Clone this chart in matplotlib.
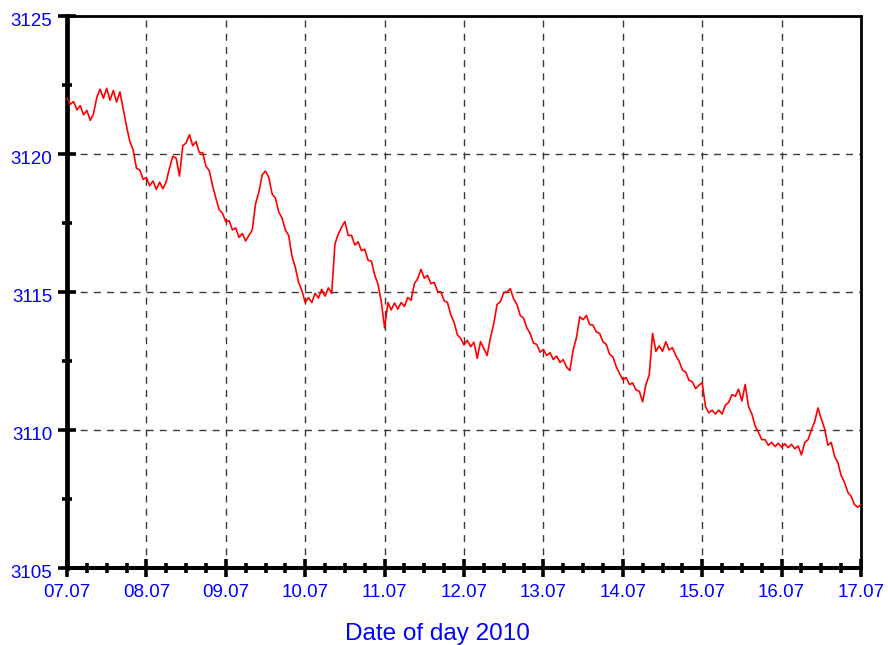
import numpy as np
import pandas as pd
import matplotlib
matplotlib.use("Agg")
import matplotlib.pyplot as plt
import matplotlib.dates as mdates
import matplotlib.transforms as mtransforms
from matplotlib.ticker import MultipleLocator

# ---- data (hourly readings, 07.07.2010 00:00 -> 17.07.2010 00:00) ----
start_date = "2010-07-07"
level = [
    3122.02, 3121.80, 3121.90, 3121.60, 3121.75, 3121.42, 3121.58, 3121.22, 3121.45, 3122.05,
    3122.35, 3122.02, 3122.38, 3121.95, 3122.30, 3121.88, 3122.25, 3121.62, 3121.00, 3120.45,
    3120.15, 3119.48, 3119.42, 3119.08, 3119.15, 3118.85, 3119.02, 3118.72, 3118.98, 3118.74,
    3119.00, 3119.50, 3119.92, 3119.85, 3119.20, 3120.30, 3120.40, 3120.70, 3120.30, 3120.45,
    3120.05, 3120.05, 3119.55, 3119.40, 3118.85, 3118.40, 3117.98, 3117.85, 3117.55, 3117.58,
    3117.25, 3117.32, 3116.98, 3117.12, 3116.85, 3117.05, 3117.25, 3118.20, 3118.62, 3119.25,
    3119.38, 3119.15, 3118.55, 3118.40, 3117.90, 3117.68, 3117.25, 3117.05, 3116.30, 3115.90,
    3115.35, 3115.05, 3114.62, 3114.80, 3114.62, 3114.95, 3114.78, 3115.10, 3114.85, 3115.15,
    3114.95, 3116.75, 3117.10, 3117.35, 3117.55, 3117.05, 3117.05, 3116.70, 3116.82, 3116.50,
    3116.55, 3116.15, 3116.12, 3115.62, 3115.28, 3114.65, 3113.70, 3114.62, 3114.35, 3114.60,
    3114.38, 3114.62, 3114.48, 3114.80, 3114.70, 3115.30, 3115.48, 3115.82, 3115.50, 3115.60,
    3115.30, 3115.35, 3115.02, 3115.00, 3114.68, 3114.62, 3114.18, 3113.90, 3113.45, 3113.32,
    3113.08, 3113.25, 3113.02, 3113.18, 3112.60, 3113.20, 3112.95, 3112.70, 3113.35, 3113.85,
    3114.55, 3114.65, 3114.98, 3115.00, 3115.12, 3114.75, 3114.55, 3114.15, 3114.05, 3113.70,
    3113.50, 3113.15, 3113.10, 3112.82, 3112.92, 3112.70, 3112.80, 3112.55, 3112.68, 3112.45,
    3112.55, 3112.28, 3112.15, 3112.90, 3113.35, 3114.10, 3114.00, 3114.15, 3113.82, 3113.80,
    3113.55, 3113.50, 3113.20, 3113.10, 3112.75, 3112.65, 3112.30, 3112.05, 3111.82, 3111.90,
    3111.65, 3111.70, 3111.45, 3111.40, 3111.02, 3111.65, 3112.00, 3113.50, 3112.85, 3113.05,
    3112.85, 3113.20, 3112.90, 3112.98, 3112.70, 3112.50, 3112.18, 3112.10, 3111.80, 3111.75,
    3111.50, 3111.62, 3111.72, 3110.85, 3110.62, 3110.72, 3110.58, 3110.72, 3110.58, 3110.90,
    3111.00, 3111.28, 3111.22, 3111.48, 3111.05, 3111.65, 3110.85, 3110.58, 3110.15, 3109.92,
    3109.65, 3109.65, 3109.45, 3109.55, 3109.40, 3109.52, 3109.38, 3109.50, 3109.36, 3109.48,
    3109.32, 3109.42, 3109.10, 3109.55, 3109.65, 3110.00, 3110.30, 3110.80, 3110.40, 3110.05,
    3109.45, 3109.55, 3109.05, 3108.82, 3108.35, 3108.10, 3107.75, 3107.60, 3107.30, 3107.20,
    3107.30,
]
x_tick_labels = ["07.07", "08.07", "09.07", "10.07", "11.07", "12.07",
                 "13.07", "14.07", "15.07", "16.07", "17.07"]
y_ticks = [3105, 3110, 3115, 3120, 3125]
x_label = "Date of day 2010"

times = pd.date_range(start_date, periods=len(level), freq="h")
day_ticks = pd.date_range(start_date, periods=len(x_tick_labels), freq="D")

# ---- figure ----
plt.rcParams["font.family"] = ["Liberation Sans", "DejaVu Sans"]
fig = plt.figure(figsize=(8.88, 6.45), dpi=100)
ax = fig.add_axes([67 / 888, 1 - 568 / 645, (861 - 67) / 888, (568 - 16) / 645])

ax.plot(times, level, color="#ff0000", lw=1.2, zorder=3)

ax.set_xlim(day_ticks[0], day_ticks[-1])
ax.set_ylim(y_ticks[0], y_ticks[-1])

ax.set_xticks(day_ticks)
ax.set_xticklabels(x_tick_labels)
ax.xaxis.set_minor_locator(mdates.HourLocator(byhour=[6, 12, 18]))
ax.set_yticks(y_ticks)
ax.set_yticklabels([str(v) for v in y_ticks])
ax.yaxis.set_minor_locator(MultipleLocator(2.5))

ax.grid(True, which="major", color="#3a3a3a", lw=1.0, linestyle=(0, (5, 4.5)), zorder=1)

ax.tick_params(which="major", direction="inout", length=13, width=2.6,
               color="black", labelcolor="#0000ff", labelsize=13.5)
ax.tick_params(axis="y", which="major", pad=4)
ax.tick_params(axis="x", which="major", pad=5)
ax.tick_params(which="minor", direction="inout", length=7, width=2.6, color="black")
ax.tick_params(top=False, right=False, which="both")

# y tick labels sit slightly below their ticks in the reference
shift = mtransforms.ScaledTranslation(0, -3 / 100, fig.dpi_scale_trans)
for lab in ax.get_yticklabels():
    lab.set_transform(lab.get_transform() + shift)

ax.spines["left"].set_linewidth(3.4)
ax.spines["bottom"].set_linewidth(2.9)
ax.spines["top"].set_linewidth(2.0)
ax.spines["right"].set_linewidth(2.0)

fig.text(437.5 / 888, 1 - 640 / 645, x_label, color="#0000ff", fontsize=17.5,
         ha="center", va="baseline")

fig.savefig("out.png", dpi=100)
